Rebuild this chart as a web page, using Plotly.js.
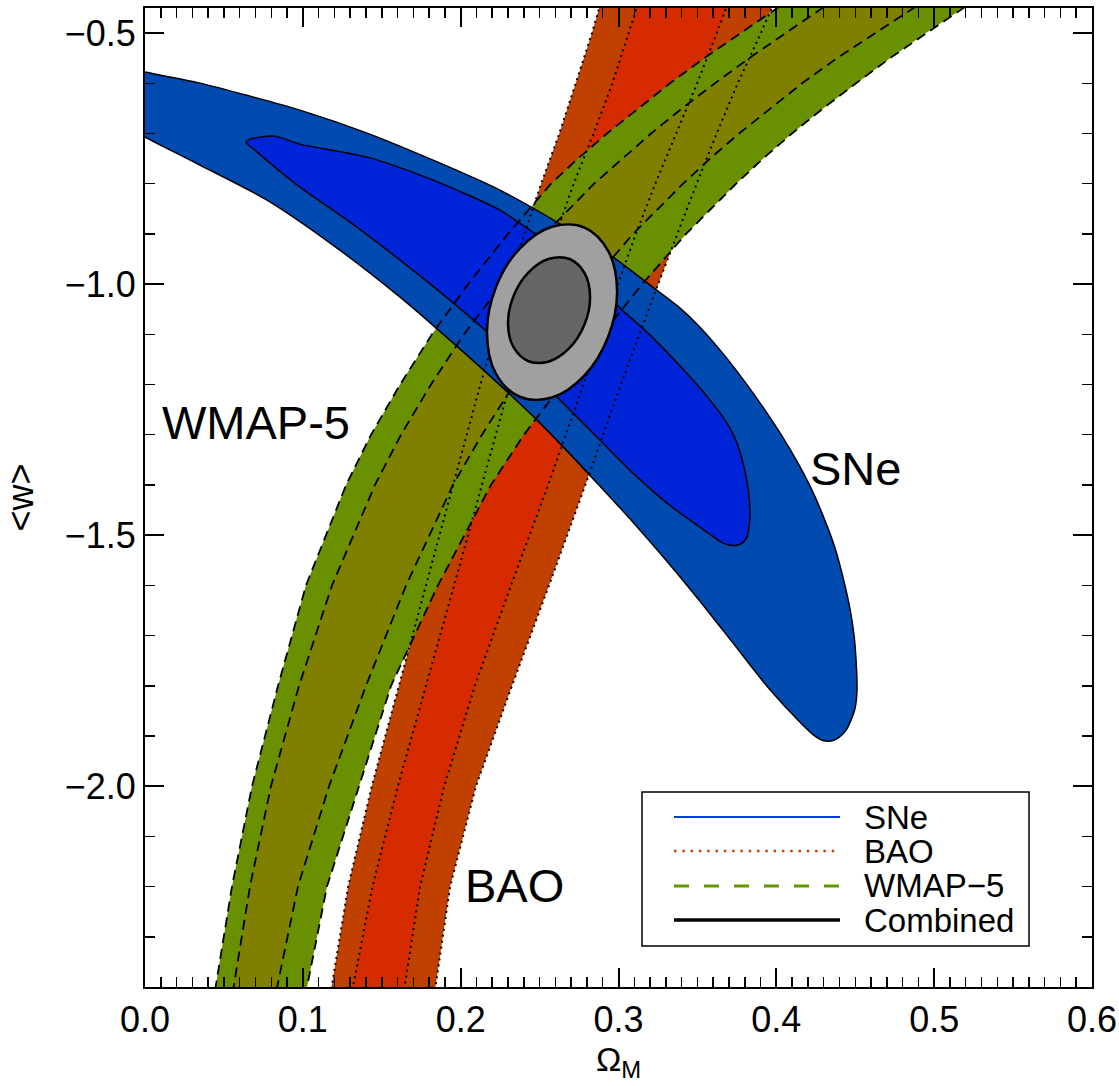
<!DOCTYPE html>
<html>
<head>
<meta charset="utf-8">
<script src="https://cdn.plot.ly/plotly-3.0.1.min.js"></script>
<style>html,body{margin:0;padding:0;background:#fff;}#chart{width:1119px;height:1086px;}</style>
</head>
<body>
<div id="chart"></div>
<script>
// ---------- SNe contours (Omega_M, <w>) ----------
const sneOuterX = [-0.0032,0,0.0348,0.0665,0.0982,0.1407,0.1825,0.2249,0.2674,0.2965,0.3200,0.3390,0.3516,0.3675,0.3802,0.3928,0.4036,0.4137,0.4226,0.4302,0.4372,0.4422,0.4467,0.4492,0.4505,0.4511,0.4499,0.4473,0.4442,0.4391,0.4340,0.4289,0.4245,0.4150,0.3941,0.3726,0.3516,0.3307,0.3092,0.2883,0.2693,0.2503,0.2249,0.1932,0.1616,0.1191,0.0773,0.0348,0,-0.0032];
const sneOuterY = [-0.5757,-0.5777,-0.5996,-0.6255,-0.6534,-0.6992,-0.7530,-0.8127,-0.8884,-0.9462,-1.0020,-1.0478,-1.0857,-1.1434,-1.1952,-1.2510,-1.3028,-1.3566,-1.4104,-1.4661,-1.5259,-1.5837,-1.6474,-1.6992,-1.7490,-1.8088,-1.8446,-1.8685,-1.8884,-1.9044,-1.9104,-1.9084,-1.9004,-1.8725,-1.8008,-1.7151,-1.6315,-1.5518,-1.4741,-1.4024,-1.3386,-1.2769,-1.2012,-1.1116,-1.0259,-0.9223,-0.8327,-0.7629,-0.7072,-0.7012];
const sneInnerX = [0.0640,0.0665,0.0729,0.0824,0.0982,0.1407,0.1825,0.2249,0.2420,0.2629,0.2820,0.2991,0.3200,0.3472,0.3580,0.3688,0.3751,0.3789,0.3821,0.3833,0.3827,0.3814,0.3783,0.3751,0.3707,0.3662,0.3516,0.3307,0.3092,0.2883,0.2566,0.2249,0.1932,0.1616,0.1299,0.0982,0.0792,0.0697,0.0640];
const sneInnerY = [-0.7171,-0.7112,-0.7072,-0.7052,-0.7211,-0.7470,-0.7928,-0.8526,-0.8884,-0.9323,-0.9821,-1.0418,-1.1016,-1.1912,-1.2311,-1.2769,-1.3167,-1.3566,-1.4064,-1.4562,-1.4841,-1.5040,-1.5159,-1.5199,-1.5199,-1.5159,-1.4841,-1.4363,-1.3765,-1.3108,-1.2112,-1.1175,-1.0319,-0.9522,-0.8765,-0.8068,-0.7590,-0.7331,-0.7171];

// ---------- BAO band edges (x at each w) ----------
const baoW = [-0.43,-0.5,-0.6,-0.7,-0.8,-0.9,-1.0,-1.2,-1.4,-1.6,-1.8,-2.0,-2.2,-2.42];
const baoOuterLeft  = [0.2896,0.2832,0.2729,0.2625,0.2510,0.2404,0.2306,0.2125,0.1952,0.1780,0.1609,0.1437,0.1287,0.1172];
const baoInnerLeft  = [0.3136,0.3065,0.2961,0.2842,0.2716,0.2605,0.2503,0.2311,0.2136,0.1958,0.1780,0.1602,0.1441,0.1305];
const baoInnerRight = [0.3706,0.3623,0.3498,0.3368,0.3233,0.3110,0.2996,0.2777,0.2555,0.2319,0.2090,0.1896,0.1743,0.1635];
const baoOuterRight = [0.3998,0.3902,0.3755,0.3622,0.3495,0.3372,0.3251,0.3015,0.2790,0.2560,0.2325,0.2097,0.1933,0.1831];

// ---------- WMAP-5 band edges (x at each w) ----------
const wmapW = [-0.43,-0.5,-0.55,-0.6,-0.65,-0.7,-0.75,-0.8,-0.9,-1.0,-1.1,-1.2,-1.3,-1.4,-1.6,-1.8,-2.0,-2.2,-2.42];
const wmapOuterLeft  = [0.4099,0.3770,0.3542,0.3326,0.3124,0.2927,0.2743,0.2572,0.2300,0.2047,0.1818,0.1616,0.1432,0.1274,0.1020,0.0843,0.0678,0.0551,0.0437];
const wmapInnerLeft  = [0.4384,0.4055,0.3827,0.3611,0.3402,0.3206,0.3022,0.2845,0.2534,0.2262,0.2021,0.1812,0.1622,0.1457,0.1185,0.0976,0.0798,0.0665,0.0551];
const wmapInnerRight = [0.4967,0.4625,0.4384,0.4163,0.3960,0.3764,0.3580,0.3409,0.3092,0.2820,0.2566,0.2338,0.2135,0.1951,0.1654,0.1400,0.1166,0.0969,0.0824];
const wmapOuterRight = [0.5278,0.4948,0.4720,0.4505,0.4296,0.4099,0.3916,0.3745,0.3428,0.3150,0.2896,0.2642,0.2401,0.2192,0.1856,0.1559,0.1356,0.1153,0.1014];

// ---------- Combined contours ----------
const combOuterX = [0.2991,0.2935,0.2785,0.2579,0.2373,0.2222,0.2167,0.2222,0.2373,0.2579,0.2785,0.2935,0.2991];
const combOuterY = [-1.0133,-0.9341,-0.8873,-0.8857,-0.9297,-1.0074,-1.0982,-1.1775,-1.2243,-1.2259,-1.1819,-1.1044,-1.0133];
const combInnerX = [0.2820,0.2785,0.2690,0.2560,0.2430,0.2335,0.2300,0.2335,0.2430,0.2560,0.2690,0.2785,0.2820];
const combInnerY = [-1.0253,-0.9779,-0.9500,-0.9496,-0.9765,-1.0235,-1.0783,-1.1257,-1.1536,-1.1540,-1.1271,-1.0801,-1.0253];

// ---------- labels ----------
const legendNames = ['SNe','BAO','WMAP\u22125','Combined'];
const regionLabels = ['WMAP-5','SNe','BAO'];
const regionLabelX = [0.0095,0.420,0.2015];
const regionLabelY = [-1.275,-1.367,-2.197];

const FONT = 'Arial, "Liberation Sans", Helvetica, sans-serif';

function band(left, right, w) {
  return {
    x: left.concat(right.slice().reverse()).concat([left[0]]),
    y: w.concat(w.slice().reverse()).concat([w[0]])
  };
}
function fillTrace(x, y, color, shape) {
  return {type:'scatter', mode:'lines', x:x, y:y, fill:'toself', fillcolor:color,
          line:{width:0, color:color, shape:shape||'linear', smoothing:0.8}, hoverinfo:'skip', showlegend:false};
}
function lineTrace(x, y, dash, width, shape) {
  return {type:'scatter', mode:'lines', x:x, y:y,
          line:{color:'black', width:width, dash:dash, shape:shape||'linear', smoothing:0.8}, hoverinfo:'skip', showlegend:false};
}

const baoOuter = band(baoOuterLeft, baoOuterRight, baoW);
const baoInner = band(baoInnerLeft, baoInnerRight, baoW);
const wmapOuter = band(wmapOuterLeft, wmapOuterRight, wmapW);
const wmapInner = band(wmapInnerLeft, wmapInnerRight, wmapW);

const traces = [
  fillTrace(baoOuter.x, baoOuter.y, 'rgb(192,64,0)'),
  fillTrace(baoInner.x, baoInner.y, 'rgb(214,42,0)'),
  fillTrace(wmapOuter.x, wmapOuter.y, 'rgb(104,144,0)'),
  fillTrace(wmapInner.x, wmapInner.y, 'rgb(128,128,0)'),
  fillTrace(sneOuterX, sneOuterY, 'rgb(0,74,176)', 'spline'),
  fillTrace(sneInnerX, sneInnerY, 'rgb(0,36,216)', 'spline'),
  lineTrace(sneOuterX, sneOuterY, 'solid', 1.5, 'spline'),
  lineTrace(sneInnerX, sneInnerY, 'solid', 1.5, 'spline'),
  lineTrace(baoOuterLeft, baoW, '2px,4px', 2),
  lineTrace(baoInnerLeft, baoW, '2px,4px', 2),
  lineTrace(baoInnerRight, baoW, '2px,4px', 2),
  lineTrace(baoOuterRight, baoW, '2px,4px', 2),
  lineTrace(wmapOuterLeft, wmapW, '10px,6px', 1.8),
  lineTrace(wmapInnerLeft, wmapW, '10px,6px', 1.8),
  lineTrace(wmapInnerRight, wmapW, '10px,6px', 1.8),
  lineTrace(wmapOuterRight, wmapW, '10px,6px', 1.8),
  {type:'scatter', mode:'lines', x:combOuterX, y:combOuterY, fill:'toself', fillcolor:'rgb(160,160,160)',
   line:{color:'black', width:2.5, shape:'spline', smoothing:1}, hoverinfo:'skip', showlegend:false},
  {type:'scatter', mode:'lines', x:combInnerX, y:combInnerY, fill:'toself', fillcolor:'rgb(102,102,102)',
   line:{color:'black', width:2.5, shape:'spline', smoothing:1}, hoverinfo:'skip', showlegend:false}
];

// ---------- manual legend ----------
const legColors = ['rgb(0,60,220)','rgb(210,60,0)','rgb(100,150,0)','black'];
const legDash = ['solid','2.5px,5.8px','15px,15px','solid'];
const legWidth = [2,2.5,3,3.5];
const legRowY = [0.1736,0.1389,0.1032,0.0684];
const shapes = [{type:'rect', xref:'paper', yref:'paper', x0:0.5248, x1:0.9335, y0:0.0419, y1:0.1992,
                 line:{color:'black', width:1.5}, fillcolor:'white', layer:'above'}];
const annotations = [];
for (let i = 0; i < legendNames.length; i++) {
  shapes.push({type:'line', xref:'paper', yref:'paper', x0:0.5586, x1:0.7339, y0:legRowY[i], y1:legRowY[i],
               line:{color:legColors[i], width:legWidth[i], dash:legDash[i]}, layer:'above'});
  annotations.push({xref:'paper', yref:'paper', x:0.7571, y:legRowY[i], xanchor:'left', yanchor:'middle',
                    text:legendNames[i], showarrow:false, font:{family:FONT, size:33, color:'black'}});
}
for (let i = 0; i < regionLabels.length; i++) {
  annotations.push({xref:'x', yref:'y', x:regionLabelX[i], y:regionLabelY[i], xanchor:'left', yanchor:'middle',
                    text:regionLabels[i], showarrow:false, font:{family:FONT, size:47, color:'black'}});
}

const axisCommon = {
  showline:true, linewidth:2, linecolor:'black', mirror:'ticks', showgrid:false, zeroline:false,
  ticks:'inside', ticklen:19, tickwidth:2, tickcolor:'black',
  tickfont:{family:FONT, size:36, color:'black'}, tickformat:'.1f'
};

const layout = {
  width:1119, height:1086,
  margin:{l:145, r:27, t:8, b:99},
  paper_bgcolor:'white', plot_bgcolor:'white',
  showlegend:false,
  font:{family:FONT, color:'black'},
  xaxis: Object.assign({}, axisCommon, {
    range:[0,0.6], tick0:0, dtick:0.1,
    minor:{dtick:0.01, ticklen:10, tickwidth:1.5, ticks:'inside', tickcolor:'black', showgrid:false},
    title:{text:'\u03A9<sub>M</sub>', font:{family:FONT, size:34, color:'black'}, standoff:6}
  }),
  yaxis: Object.assign({}, axisCommon, {
    range:[-2.4,-0.45], tick0:-0.5, dtick:0.5,
    minor:{dtick:0.1, ticklen:10, tickwidth:1.5, ticks:'inside', tickcolor:'black', showgrid:false},
    title:{text:'&lt;w&gt;', font:{family:FONT, size:36, color:'black'}, standoff:26}
  }),
  shapes: shapes,
  annotations: annotations
};

Plotly.newPlot('chart', traces, layout, {staticPlot:true, displayModeBar:false});
</script>
</body>
</html>
